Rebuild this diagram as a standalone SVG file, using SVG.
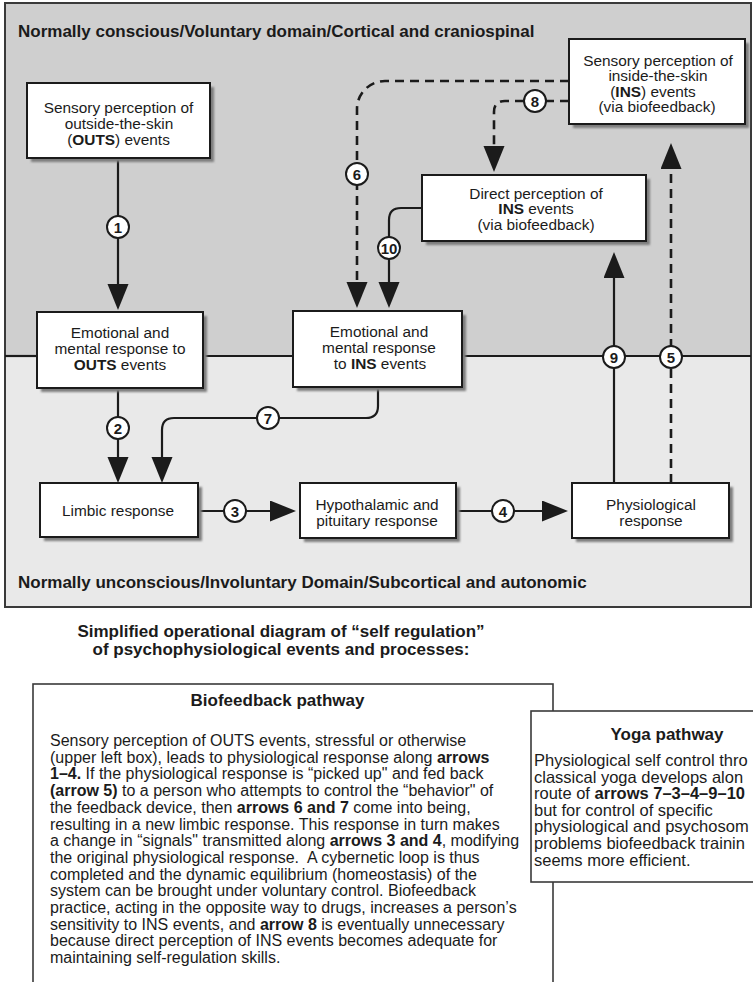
<svg xmlns="http://www.w3.org/2000/svg" width="753" height="982" viewBox="0 0 753 982">
  <style>
    text { font-family: "Liberation Sans", Arial, Helvetica, sans-serif; fill: #1b1b1b; }
    .box { fill: #ffffff; stroke: #1b1b1b; stroke-width: 2; }
    .shadow { fill: #7d7d7d; filter: url(#soft); }
    .lbl { font-size: 15.4px; text-anchor: middle; }
    .hdr { font-size: 17px; font-weight: bold; }
    .conn { fill: none; stroke: #1b1b1b; stroke-width: 2.2; }
    .dash { stroke-dasharray: 9 6; stroke-width: 2.6; }
    .badge circle { fill: #ffffff; stroke: #1b1b1b; stroke-width: 2; }
    .badge text { font-size: 15px; font-weight: bold; text-anchor: middle; }
    .para { font-size: 16px; }
    .yoga { font-size: 16.5px; }
    .b { font-weight: bold; }
  </style>
  <defs>
    <filter id="soft" x="-10%" y="-10%" width="120%" height="120%">
      <feGaussianBlur stdDeviation="1.2"/>
    </filter>
    <marker id="ah" markerUnits="userSpaceOnUse" markerWidth="28" markerHeight="24" refX="20" refY="10.5" orient="auto">
      <path d="M0,0 L26,10.5 L0,21 Z" fill="#1b1b1b"/>
    </marker>
  </defs>

  <!-- domain panels -->
  <g id="panel">
    <rect x="5" y="3" width="746" height="353" fill="#cfcfcf"/>
    <rect x="5" y="356" width="746" height="251" fill="#e9e9e9"/>
    <rect x="5" y="3" width="746" height="604" fill="none" stroke="#3a3a3a" stroke-width="2"/>
    <text class="hdr" x="18" y="37">Normally conscious/Voluntary domain/Cortical and craniospinal</text>
    <text class="hdr" x="18" y="588">Normally unconscious/Involuntary Domain/Subcortical and autonomic</text>
  </g>

  <!-- domain boundary -->
  <g id="boundary" stroke="#1b1b1b" stroke-width="2.2">
    <line x1="5" y1="356" x2="37" y2="356"/>
    <line x1="203" y1="356" x2="293" y2="356"/>
    <line x1="462" y1="356" x2="751" y2="356"/>
  </g>

  <!-- connectors -->
  <g id="connectors">
    <path class="conn" d="M118,158 V304" marker-end="url(#ah)"/>
    <path class="conn" d="M118,388 V477" marker-end="url(#ah)"/>
    <path class="conn" d="M378,387 V406 Q378,418 366,418 H174 Q162,418 162,430 V477" marker-end="url(#ah)"/>
    <path class="conn" d="M198,511 H290" marker-end="url(#ah)"/>
    <path class="conn" d="M456,511 H562" marker-end="url(#ah)"/>
    <path class="conn" d="M614,483 V258" marker-end="url(#ah)"/>
    <path class="conn dash" d="M671,483 V149" marker-end="url(#ah)"/>
    <path class="conn dash" d="M569,81 H385 A28,28 0 0 0 357,109 V302" marker-end="url(#ah)"/>
    <path class="conn dash" d="M569,101 H505 Q494,101 494,112 V166" marker-end="url(#ah)"/>
    <path class="conn" d="M422,208 H401 Q389,208 389,220 V302" marker-end="url(#ah)"/>

    <g class="badge"><circle cx="118" cy="227" r="11"/><text x="118" y="232.5">1</text></g>
    <g class="badge"><circle cx="118" cy="428" r="11"/><text x="118" y="433.5">2</text></g>
    <g class="badge"><circle cx="235" cy="511" r="11"/><text x="235" y="516.5">3</text></g>
    <g class="badge"><circle cx="503" cy="511" r="11"/><text x="503" y="516.5">4</text></g>
    <g class="badge"><circle cx="671" cy="357" r="11"/><text x="671" y="362.5">5</text></g>
    <g class="badge"><circle cx="357" cy="174" r="11"/><text x="357" y="179.5">6</text></g>
    <g class="badge"><circle cx="268" cy="418" r="11"/><text x="268" y="423.5">7</text></g>
    <g class="badge"><circle cx="535" cy="101" r="11"/><text x="535" y="106.5">8</text></g>
    <g class="badge"><circle cx="614" cy="357" r="11"/><text x="614" y="362.5">9</text></g>
    <g class="badge"><circle cx="389" cy="248" r="11"/><text x="389" y="253.5">10</text></g>
  </g>

  <!-- nodes -->
  <g id="outs-perception">
    <rect class="shadow" x="31" y="87" width="183" height="75"/>
    <rect class="box" x="27" y="83" width="183" height="75"/>
    <text class="lbl" x="118.5" y="113">Sensory perception of</text>
    <text class="lbl" x="119" y="129">outside-the-skin</text>
    <text class="lbl" x="118.5" y="145">(<tspan class="b">OUTS</tspan>) events</text>
  </g>

  <g id="outs-response">
    <rect class="shadow" x="41" y="316" width="166" height="76"/>
    <rect class="box" x="37" y="312" width="166" height="76"/>
    <text class="lbl" x="120" y="337.5">Emotional and</text>
    <text class="lbl" x="120" y="353.5">mental response to</text>
    <text class="lbl" x="120" y="369.5"><tspan class="b">OUTS</tspan> events</text>
  </g>

  <g id="ins-response">
    <rect class="shadow" x="297" y="315" width="169" height="76"/>
    <rect class="box" x="293" y="311" width="169" height="76"/>
    <text class="lbl" x="379" y="336.5">Emotional and</text>
    <text class="lbl" x="379" y="352.5">mental response</text>
    <text class="lbl" x="380" y="368.5">to <tspan class="b">INS</tspan> events</text>
  </g>

  <g id="limbic">
    <rect class="shadow" x="44" y="487" width="158" height="54"/>
    <rect class="box" x="40" y="483" width="158" height="54"/>
    <text class="lbl" x="118" y="516">Limbic response</text>
  </g>

  <g id="hypothalamic">
    <rect class="shadow" x="304" y="487" width="156" height="55"/>
    <rect class="box" x="300" y="483" width="156" height="55"/>
    <text class="lbl" x="377" y="509.5">Hypothalamic and</text>
    <text class="lbl" x="377" y="525.5">pituitary response</text>
  </g>

  <g id="physiological">
    <rect class="shadow" x="576" y="487" width="157" height="55"/>
    <rect class="box" x="572" y="483" width="157" height="55"/>
    <text class="lbl" x="651" y="509.5">Physiological</text>
    <text class="lbl" x="651" y="525.5">response</text>
  </g>

  <g id="direct-perception">
    <rect class="shadow" x="426" y="179" width="224" height="66"/>
    <rect class="box" x="422" y="175" width="224" height="66"/>
    <text class="lbl" x="536" y="198.5">Direct perception of</text>
    <text class="lbl" x="536" y="214"><tspan class="b">INS</tspan> events</text>
    <text class="lbl" x="536" y="229.5">(via biofeedback)</text>
  </g>

  <g id="ins-perception">
    <rect class="shadow" x="573" y="43" width="176" height="85"/>
    <rect class="box" x="569" y="39" width="176" height="85"/>
    <text class="lbl" x="658" y="65.5">Sensory perception of</text>
    <text class="lbl" x="658" y="81">inside-the-skin</text>
    <text class="lbl" x="653" y="96.5">(<tspan class="b">INS</tspan>) events</text>
    <text class="lbl" x="657" y="112">(via biofeedback)</text>
  </g>

  <!-- caption -->
  <g id="caption">
    <text class="hdr" x="281" y="637" text-anchor="middle" font-size="16.3px">Simplified operational diagram of “self regulation”</text>
    <text class="hdr" x="281" y="654.5" text-anchor="middle" font-size="16.3px">of psychophysiological events and processes:</text>
  </g>

  <!-- biofeedback pathway notes -->
  <g id="biofeedback-pathway">
    <rect x="33" y="684" width="520" height="310" fill="#ffffff" stroke="#3a3a3a" stroke-width="1.6"/>
    <text class="hdr" x="277.5" y="706" text-anchor="middle" font-size="17.5px">Biofeedback pathway</text>
    <text class="para" x="50" y="746">Sensory perception of OUTS events, stressful or otherwise</text>
    <text class="para" x="50" y="762.7">(upper left box), leads to physiological response along <tspan class="b">arrows</tspan></text>
    <text class="para" x="50" y="779.4"><tspan class="b">1–4.</tspan> If the physiological response is “picked up" and fed back</text>
    <text class="para" x="50" y="796.1"><tspan class="b">(arrow 5)</tspan> to a person who attempts to control the “behavior" of</text>
    <text class="para" x="50" y="812.8">the feedback device, then <tspan class="b">arrows 6 and 7</tspan> come into being,</text>
    <text class="para" x="50" y="829.5">resulting in a new limbic response. This response in turn makes</text>
    <text class="para" x="50" y="846.2">a change in “signals" transmitted along <tspan class="b">arrows 3 and 4</tspan>, modifying</text>
    <text class="para" x="50" y="862.9" xml:space="preserve">the original physiological response.  A cybernetic loop is thus</text>
    <text class="para" x="50" y="879.6">completed and the dynamic equilibrium (homeostasis) of the</text>
    <text class="para" x="50" y="896.3">system can be brought under voluntary control. Biofeedback</text>
    <text class="para" x="50" y="913">practice, acting in the opposite way to drugs, increases a person’s</text>
    <text class="para" x="50" y="929.7">sensitivity to INS events, and <tspan class="b">arrow 8</tspan> is eventually unnecessary</text>
    <text class="para" x="50" y="946.4">because direct perception of INS events becomes adequate for</text>
    <text class="para" x="50" y="963.1">maintaining self-regulation skills.</text>
  </g>

  <!-- yoga pathway notes -->
  <g id="yoga-pathway">
    <rect x="531" y="711" width="240" height="171" fill="#ffffff" stroke="#3a3a3a" stroke-width="1.6"/>
    <text class="hdr" x="667" y="740" text-anchor="middle">Yoga pathway</text>
    <text class="yoga" x="534" y="766">Physiological self control thro</text>
    <text class="yoga" x="534" y="782.6">classical yoga develops alon</text>
    <text class="yoga" x="534" y="799.2">route of <tspan class="b">arrows 7–3–4–9–10</tspan></text>
    <text class="yoga" x="534" y="815.8">but for control of specific</text>
    <text class="yoga" x="534" y="832.4">physiological and psychosom</text>
    <text class="yoga" x="534" y="849">problems biofeedback trainin</text>
    <text class="yoga" x="534" y="865.6">seems more efficient.</text>
  </g>
</svg>
